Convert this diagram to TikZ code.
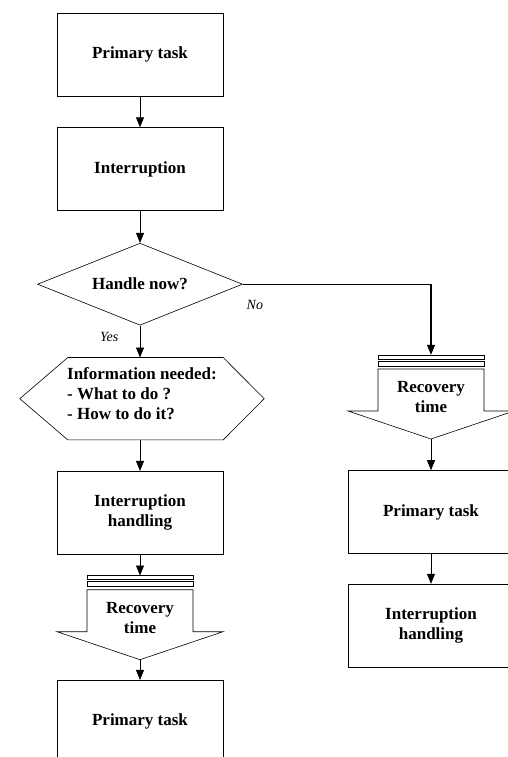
\documentclass[tikz,border=0pt]{standalone}
\usepackage{fontspec}
\setmainfont{Liberation Serif}
\usetikzlibrary{arrows.meta,positioning,shapes.geometric}

% outline of a recovery arrow around node #1
\newcommand{\recoveryshape}[1]{%
  \begin{scope}[shift={(#1.center)},line width=0.6pt]
    \draw (-53,-42) rectangle (53,-38);
    \draw (-53,-36) rectangle (53,-31);
    \draw (-53,-28) -- (-53,14) -- (-83,14) -- (0,42) -- (83,14) -- (53,14) -- (53,-28) -- cycle;
  \end{scope}}

\begin{document}
\begin{tikzpicture}[x=1pt,y=-1pt,>={Triangle[width=8pt,length=10pt]},
    box/.style={draw,rectangle,line width=0.6pt,minimum width=166pt,minimum height=83pt,inner sep=0pt,align=center,font=\bfseries\fontsize{17}{20}\selectfont},
    decision/.style={draw,diamond,aspect=2.5,line width=0.6pt,minimum width=205pt,minimum height=82pt,inner sep=0pt,font=\bfseries\fontsize{17}{20}\selectfont},
    hexbox/.style={minimum width=244pt,minimum height=82pt,inner sep=0pt,align=left,font=\bfseries\fontsize{17}{20}\selectfont},
    recbox/.style={minimum width=166pt,minimum height=84pt,inner sep=0pt,align=center,font=\bfseries\fontsize{17}{20}\selectfont},
    lbl/.style={font=\itshape\fontsize{14}{16}\selectfont},
    flow/.style={->,line width=0.6pt}]

  \useasboundingbox (0,0) rectangle (507,757);

  % left column
  \node[box]                                  (pt1)       at (140,54.5) {Primary task};
  \node[box,below=31pt of pt1]                (intr)      {Interruption};
  \node[decision,below=32pt of intr]          (handle)    {Handle now?};
  \node[hexbox,below=27pt of handle,xshift=2pt] (info)    {Information needed:\\- What to do ?\\- How to do it?};
  \node[box,below=36pt of info,xshift=-2pt]   (handling)  {Interruption\\handling};
  \node[recbox,below=21pt of handling]        (rec1)      {Recovery\\time};
  \node[box,below=20pt of rec1]               (pt3)       {Primary task};

  % right column
  \node[recbox]                               (rec2)      at (431,397) {Recovery\\time};
  \node[box,below=31pt of rec2]               (pt2)       {Primary task};
  \node[box,below=30pt of pt2]                (handling2) {Interruption\\handling};

  % hexagon sits 5pt lower than its text
  \draw[line width=0.6pt] ([yshift=-5pt]info.west) -- ([shift={(48pt,-5pt)}]info.north west)
        -- ([shift={(-41pt,-5pt)}]info.north east) -- ([yshift=-5pt]info.east)
        -- ([shift={(-41pt,-5pt)}]info.south east) -- ([shift={(48pt,-5pt)}]info.south west) -- cycle;
  \recoveryshape{rec1}
  \recoveryshape{rec2}

  \draw[flow] (pt1) -- (intr);
  \draw[flow] (intr) -- (handle);
  \draw[flow] (handle.south) -- node[lbl,pos=0.35,left=18pt] {Yes} ([yshift=-5pt]handle.south |- info.north);
  \draw[flow] ([yshift=-5pt]handle.south |- info.south) -- (handling);
  \draw[flow] (handling) -- (rec1);
  \draw[flow] (rec1) -- (pt3);
  \draw[flow,line width=1.2pt] (handle.east) -| node[lbl,pos=0,anchor=north west,yshift=-12pt] {No} (rec2.north);
  \draw[flow] (rec2) -- (pt2);
  \draw[flow] (pt2) -- (handling2);

\end{tikzpicture}
\end{document}
